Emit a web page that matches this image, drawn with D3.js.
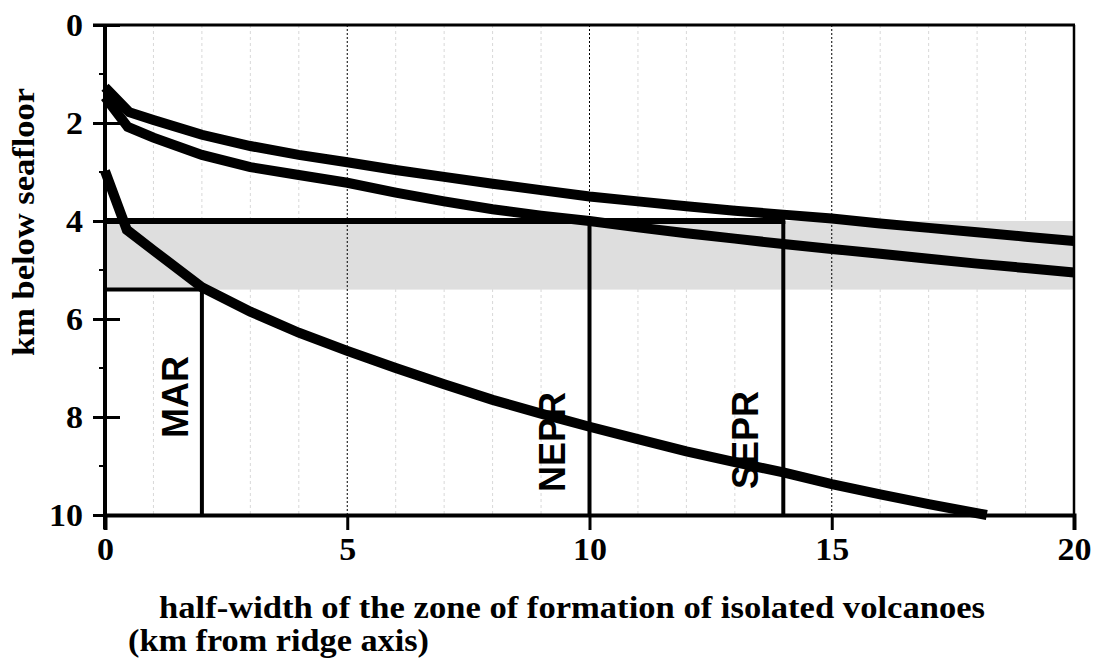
<!DOCTYPE html>
<html>
<head>
<meta charset="utf-8">
<script src="https://cdn.jsdelivr.net/npm/d3@7"></script>
<style>
  body { margin: 0; background: #fff; }
  svg { display: block; }
</style>
</head>
<body>
<svg id="chart" width="1098" height="664"></svg>
<script>
// values: [km from ridge axis, km below seafloor]
const curveUpper = [[0, 1.27], [0.5, 1.78], [1, 1.94], [2, 2.24], [3, 2.47], [4, 2.65], [5, 2.8],
  [6, 2.96], [7, 3.1], [8, 3.24], [9, 3.37], [10, 3.5], [11, 3.6], [12, 3.7], [13, 3.79],
  [14, 3.87], [15, 3.95], [16, 4.05], [17, 4.14], [18, 4.23], [19, 4.32], [20, 4.41]];
const curveMiddle = [[0, 1.47], [0.47, 2.08], [1, 2.3], [2, 2.65], [3, 2.9], [4, 3.06], [5, 3.22],
  [6, 3.42], [7, 3.6], [8, 3.76], [9, 3.89], [10, 4.0], [11, 4.13], [12, 4.25], [13, 4.36],
  [14, 4.47], [15, 4.57], [16, 4.67], [17, 4.77], [18, 4.87], [19, 4.96], [20, 5.05]];
const curveLower = [[0, 2.98], [0.45, 4.18], [1, 4.6], [2, 5.35], [3, 5.85], [4, 6.28], [5, 6.65],
  [6, 7.0], [7, 7.33], [8, 7.65], [9, 7.93], [10, 8.2], [11, 8.45], [12, 8.7], [13, 8.92],
  [14, 9.13], [15, 9.37], [16, 9.58], [17, 9.78], [18.2, 10.0]];

const ridgeNames = ["MAR", "NEPR", "SEPR"];
const ridgeWidth = [2, 10, 14];     // half-width (km)
const ridgeDepth = [5.4, 4, 4];     // depth where each ridge line starts
const bandDepth = [4, 5.4];         // shaded depth range

const xTicks = [0, 5, 10, 15, 20];
const xMinor = d3.range(1, 20).filter(d => d % 5 !== 0);
const yTicks = [0, 2, 4, 6, 8, 10];
const yMinor = [1, 3, 5, 7, 9];

const serif = "Liberation Serif, Times New Roman, serif";
const svg = d3.select("#chart");
const x = d3.scaleLinear().domain([0, 20]).range([105, 1074]);
const y = d3.scaleLinear().domain([0, 10]).range([25, 515]);

// minor grid
svg.append("g").selectAll("line").data(xMinor).join("line")
  .attr("x1", d => x(d)).attr("x2", d => x(d))
  .attr("y1", y(0)).attr("y2", y(10))
  .attr("stroke", "#d8d8d8").attr("stroke-width", 1).attr("stroke-dasharray", "3,3");

// shaded band
svg.append("rect")
  .attr("x", x(0)).attr("width", x(20) - x(0))
  .attr("y", y(bandDepth[0])).attr("height", y(bandDepth[1]) - y(bandDepth[0]))
  .attr("fill", "#dedede");

// major grid (dotted)
svg.append("g").selectAll("line").data(xTicks.slice(1, -1)).join("line")
  .attr("x1", d => x(d)).attr("x2", d => x(d))
  .attr("y1", y(0)).attr("y2", y(10))
  .attr("stroke", "#000").attr("stroke-width", 1).attr("stroke-dasharray", "2,2");

// ridge lines: horizontal from axis, then vertical down to 10 km
const refs = svg.append("g").attr("stroke", "#000").attr("fill", "none");
refs.append("line")
  .attr("x1", x(0)).attr("x2", x(d3.max(ridgeWidth)) + 2)
  .attr("y1", y(bandDepth[0])).attr("y2", y(bandDepth[0]))
  .attr("stroke-width", 6);
refs.append("line")
  .attr("x1", x(0)).attr("x2", x(ridgeWidth[0]) + 2)
  .attr("y1", y(bandDepth[1])).attr("y2", y(bandDepth[1]))
  .attr("stroke-width", 4);
refs.selectAll(".vr").data(ridgeWidth).join("line")
  .attr("class", "vr")
  .attr("x1", d => x(d)).attr("x2", d => x(d))
  .attr("y1", (d, i) => y(ridgeDepth[i])).attr("y2", y(10))
  .attr("stroke-width", 4);

// curves
const line = d3.line().x(d => x(d[0])).y(d => y(d[1]));
svg.append("g").selectAll("path").data([curveUpper, curveMiddle, curveLower]).join("path")
  .attr("d", line)
  .attr("fill", "none").attr("stroke", "#000").attr("stroke-width", 10)
  .attr("stroke-linejoin", "miter").attr("stroke-linecap", "butt");

// frame
svg.append("line").attr("x1", x(0) - 12).attr("x2", x(20) + 1).attr("y1", y(0)).attr("y2", y(0))
  .attr("stroke", "#000").attr("stroke-width", 3);
svg.append("line").attr("x1", x(20)).attr("x2", x(20)).attr("y1", y(0)).attr("y2", y(10))
  .attr("stroke", "#000").attr("stroke-width", 2.5);

// x axis
const xAxis = svg.append("g").attr("transform", `translate(0,${y(10)})`)
  .call(d3.axisBottom(x).tickValues(xTicks).tickSize(15).tickFormat(d3.format("d")));
xAxis.select(".domain").attr("stroke-width", 4);
xAxis.selectAll(".tick line").attr("stroke-width", 3);
xAxis.selectAll(".tick text")
  .attr("font-family", serif).attr("font-weight", "bold").attr("font-size", 32)
  .attr("dy", "0.85em").attr("fill", "#000")
  .attr("textLength", d => String(d).length * 17).attr("lengthAdjust", "spacingAndGlyphs");

// y axis
const yAxis = svg.append("g").attr("transform", `translate(${x(0)},0)`)
  .call(d3.axisLeft(y).tickValues(yTicks).tickSize(12).tickFormat(d3.format("d")));
yAxis.select(".domain").remove();
yAxis.selectAll(".tick line").attr("x2", -12).attr("x1", 15).attr("stroke-width", 3);
yAxis.selectAll(".tick text")
  .attr("font-family", serif).attr("font-weight", "bold").attr("font-size", 32)
  .attr("x", -22).attr("fill", "#000")
  .attr("textLength", d => String(d).length * 17).attr("lengthAdjust", "spacingAndGlyphs");
yAxis.append("g").selectAll("line").data(yMinor).join("line")
  .attr("x1", -6).attr("x2", 0).attr("y1", d => y(d)).attr("y2", d => y(d))
  .attr("stroke", "#000").attr("stroke-width", 2);
yAxis.append("line").attr("x1", 0).attr("x2", 0).attr("y1", y(0)).attr("y2", y(10) + 14)
  .attr("stroke", "#000").attr("stroke-width", 4);

// ridge labels
const labelPos = [[175, 397], [552, 442], [745, 440]];
svg.append("g").selectAll("text").data(ridgeNames).join("text")
  .attr("transform", (d, i) => `translate(${labelPos[i][0]},${labelPos[i][1]}) rotate(-90)`)
  .attr("text-anchor", "middle").attr("dy", "0.36em")
  .attr("font-family", "Liberation Sans, Arial, sans-serif")
  .attr("font-weight", "bold").attr("font-size", 36)
  .text(d => d);

// axis titles
svg.append("text")
  .attr("transform", "translate(34,222) rotate(-90)")
  .attr("text-anchor", "middle")
  .attr("font-family", serif).attr("font-weight", "bold").attr("font-size", 32)
  .attr("textLength", 268).attr("lengthAdjust", "spacingAndGlyphs")
  .text("km below seafloor");
svg.append("text").attr("x", 159).attr("y", 618)
  .attr("font-family", serif).attr("font-weight", "bold").attr("font-size", 32)
  .attr("textLength", 826).attr("lengthAdjust", "spacingAndGlyphs")
  .text("half-width of the zone of formation of isolated volcanoes");
svg.append("text").attr("x", 128).attr("y", 651)
  .attr("font-family", serif).attr("font-weight", "bold").attr("font-size", 32)
  .attr("textLength", 301).attr("lengthAdjust", "spacingAndGlyphs")
  .text("(km from ridge axis)");
</script>
</body>
</html>
